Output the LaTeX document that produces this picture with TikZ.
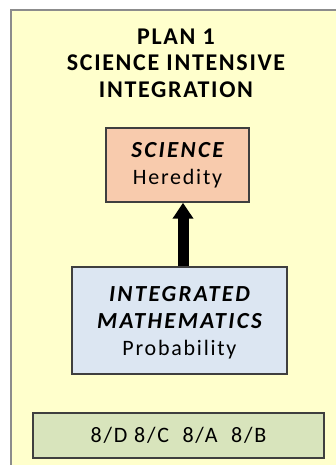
\documentclass[tikz,border=0pt]{standalone}
\usepackage{fontspec}
\setmainfont{Carlito}[LetterSpace=8]
\newfontfamily\titlefont{Carlito}[LetterSpace=7]
\newfontfamily\headfont{Carlito}[LetterSpace=10]
\usetikzlibrary{arrows.meta}
\definecolor{bgyellow}{HTML}{FFFFCC}
\definecolor{outerline}{HTML}{8C8C8C}
\definecolor{scifill}{HTML}{F8CBAD}
\definecolor{mathfill}{HTML}{DCE6F2}
\definecolor{classfill}{HTML}{D8E4BC}
\definecolor{boxline}{HTML}{3F3F3F}
\newcommand{\hd}[1]{{\headfont\bfseries\itshape\fontsize{23}{27}\selectfont #1}}
\tikzset{
  panel/.style={draw=boxline, line width=1.5pt, inner sep=0pt, align=center, text=black,
    font=\fontsize{22}{27}\selectfont},
  bigarrow/.style={line width=11pt, -{Triangle[width=20pt,length=16pt]}},
}
\begin{document}
\begin{tikzpicture}[x=1pt,y=1pt]
\useasboundingbox (0,0) rectangle (336,465);
\begin{scope}
\clip (0,0) rectangle (336,465);
\draw[fill=bgyellow, draw=outerline, line width=2pt] (11,455) rectangle (345,-10);
\end{scope}
\node (title) at (176,402) [align=center, font=\titlefont\fontsize{24}{26.5}\selectfont\bfseries] {PLAN 1\\SCIENCE INTENSIVE\\INTEGRATION};
\node (sci) [panel, fill=scifill, minimum width=143pt, minimum height=74pt] at (177.5,300) {};
\node (scitext) [align=center, inner sep=0pt, font=\fontsize{22}{27}\selectfont] at (sci.center)
  {\hd{SCIENCE}\\Heredity};
\node (math) [panel, fill=mathfill, minimum width=215pt, minimum height=107pt] at (179.5,144.5) {};
\node (mathtext) [align=center, inner sep=0pt, font=\fontsize{22}{27}\selectfont] at ([yshift=-2pt]math.center)
  {\hd{INTEGRATED}\\\hd{MATHEMATICS}\\Probability};
\node (cls) [panel, fill=classfill, minimum width=291pt, minimum height=45pt] at (178.5,29.5)
  {8/D\ 8/C\ \ 8/A\ \ 8/B};
\draw[bigarrow] ([xshift=3.5pt]math.north) -- ([xshift=5.5pt]sci.south);
\end{tikzpicture}
\end{document}
